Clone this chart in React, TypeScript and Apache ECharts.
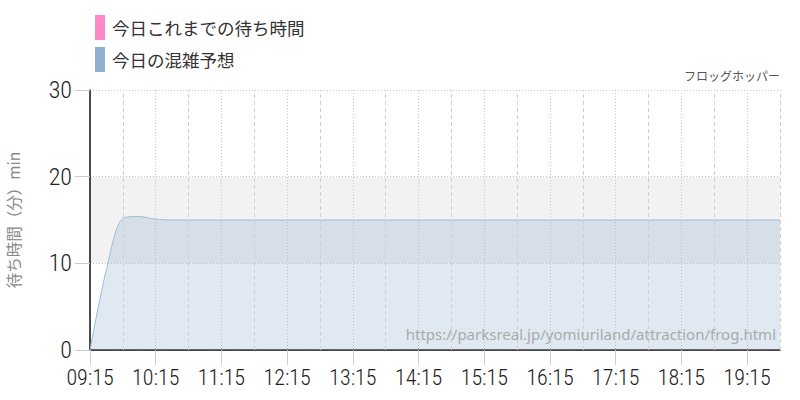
import React, { useEffect, useRef } from "react";
import * as echarts from "echarts";

const attractionName = "フロッグホッパー";
const sourceUrl = "https://parksreal.jp/yomiuriland/attraction/frog.html";
const legendToday = "今日これまでの待ち時間";
const legendForecast = "今日の混雑予想";
const yAxisTitle = "待ち時間（分）min";

const todayTimes: string[] = [];
const todayValues: number[] = [];

const forecastTimes = [
  "09:15", "09:30", "09:45", "10:00", "10:15", "10:30", "10:45", "11:00", "11:15", "11:30",
  "11:45", "12:00", "12:15", "12:30", "12:45", "13:00", "13:15", "13:30", "13:45", "14:00",
  "14:15", "14:30", "14:45", "15:00", "15:15", "15:30", "15:45", "16:00", "16:15", "16:30",
  "16:45", "17:00", "17:15", "17:30", "17:45", "18:00", "18:15", "18:30", "18:45", "19:00",
  "19:15", "19:30", "19:45",
];
const forecastValues = [
  0, 9.3, 15.2, 15.4, 15.1, 15, 15, 15, 15, 15,
  15, 15, 15, 15, 15, 15, 15, 15, 15, 15,
  15, 15, 15, 15, 15, 15, 15, 15, 15, 15,
  15, 15, 15, 15, 15, 15, 15, 15, 15, 15,
  15, 15, 15,
];

const hourTicks = ["09:15", "10:15", "11:15", "12:15", "13:15", "14:15", "15:15", "16:15", "17:15", "18:15", "19:15"];
const halfHourLines = ["09:45", "10:45", "11:45", "12:45", "13:45", "14:45", "15:45", "16:45", "17:45", "18:45", "19:45"];

const startTime = "09:15";
const endTime = "19:45";

const toMin = (t: string) => {
  const [h, m] = t.split(":").map(Number);
  return h * 60 + m;
};
const fromMin = (v: number) => {
  const h = Math.floor(v / 60);
  const m = Math.round(v % 60);
  return `${String(h).padStart(2, "0")}:${String(m).padStart(2, "0")}`;
};

const numFont = "'Roboto Condensed', 'Liberation Sans Narrow', 'DejaVu Sans Condensed', Roboto, sans-serif";
const jpFont = "'Noto Sans CJK JP', 'Noto Sans', sans-serif";

export default function App() {
  const ref = useRef<HTMLDivElement>(null);
  useEffect(() => {
    if (!ref.current) return;
    const chart = echarts.init(ref.current, undefined, { renderer: "svg" });
    const hourSet = new Set(hourTicks.map(toMin));
    chart.setOption({
      animation: false,
      backgroundColor: "#ffffff",
      legend: {
        orient: "vertical",
        left: 95,
        top: 15,
        padding: 0,
        icon: "rect",
        itemWidth: 10,
        itemHeight: 25,
        itemGap: 7,
        textStyle: { fontFamily: jpFont, fontSize: 17.5, color: "#333", padding: [0, 0, 0, 2] },
        data: [legendToday, legendForecast],
      },
      grid: { left: 90, right: 20, top: 90, bottom: 50, containLabel: false, outerBoundsMode: "none" },
      xAxis: {
        type: "value",
        min: toMin(startTime),
        max: toMin(endTime),
        interval: 60,
        axisLine: { show: true, lineStyle: { color: "#111", width: 1.5 } },
        axisTick: {
          show: true,
          length: 15,
          lineStyle: { color: "#ccc" },
          customValues: hourTicks.map(toMin),
        },
        axisLabel: {
          customValues: hourTicks.map(toMin),
          formatter: (v: number) => (hourSet.has(v) ? fromMin(v) : ""),
          fontFamily: numFont,
          fontWeight: 300,
          fontSize: 22,
          color: "#222",
          margin: 16,
        },
        splitLine: {
          show: true,
          lineStyle: { color: "#c8c8c8", type: [1, 2], width: 1 },
        },
      },
      yAxis: {
        type: "value",
        min: 0,
        max: 30,
        interval: 10,
        name: yAxisTitle,
        nameLocation: "middle",
        nameGap: 69,
        nameRotate: 90,
        nameTextStyle: { fontFamily: jpFont, fontSize: 15.5, color: "#888" },
        axisLine: { show: true, lineStyle: { color: "#111", width: 1.5 } },
        axisTick: { show: true, length: 15, lineStyle: { color: "#ccc" } },
        axisLabel: { fontFamily: numFont, fontWeight: 300, fontSize: 24, color: "#222", margin: 18 },
        splitLine: { show: true, lineStyle: { color: "#c8c8c8", type: [1, 2], width: 1 } },
        splitArea: {
          show: true,
          areaStyle: { color: ["rgba(255,255,255,0)", "#f2f2f2", "rgba(255,255,255,0)"] },
        },
      },
      graphic: [
        {
          type: "text",
          right: 20,
          top: 69,
          style: { text: attractionName, fontFamily: jpFont, fontSize: 12, fill: "#555" },
        },
        {
          type: "text",
          right: 24,
          top: 326,
          z: 100,
          style: { text: sourceUrl, fontFamily: "'Noto Sans', sans-serif", fontSize: 15, fill: "#aaa" },
        },
      ],
      series: [
        {
          name: legendToday,
          type: "line",
          color: "#ff88c8",
          itemStyle: { color: "#ff88c8" },
          data: todayTimes.map((t, i) => [toMin(t), todayValues[i]]),
          showSymbol: false,
        },
        {
          name: legendForecast,
          type: "line",
          color: "#8fb0d0",
          itemStyle: { color: "#8fb0d0" },
          smooth: 0.3,
          showSymbol: false,
          lineStyle: { color: "#9dbcd9", width: 1 },
          areaStyle: { color: "#8fb0d0", opacity: 0.28 },
          data: forecastTimes.map((t, i) => [toMin(t), forecastValues[i]]),
          markLine: {
            silent: true,
            symbol: "none",
            label: { show: false },
            lineStyle: { color: "#cfcfcf", type: [4, 3], width: 1 },
            data: halfHourLines.map((t) => ({ xAxis: toMin(t) })),
          },
        },
      ],
    });
    return () => chart.dispose();
  }, []);
  return (
    <div
      ref={ref}
      style={{ position: "fixed", left: 0, top: 0, width: 800, height: 400 }}
    />
  );
}
